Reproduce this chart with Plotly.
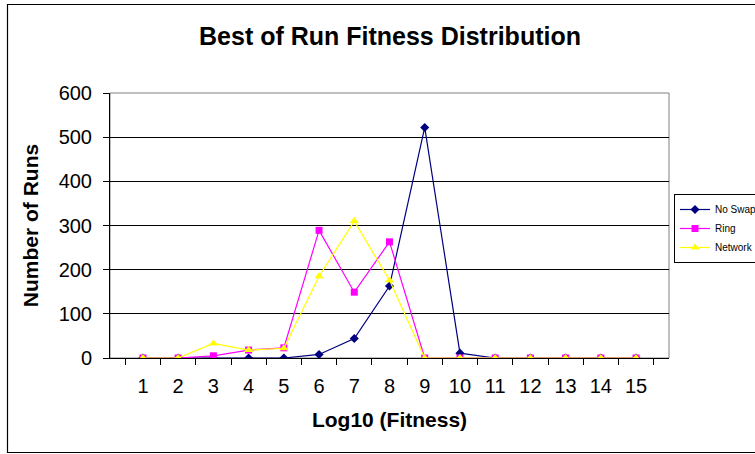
import plotly.graph_objects as go

categories = [str(i) for i in range(1, 16)]
no_swap = [0, 0, 0, 0, 0, 8, 44, 163, 522, 11, 0, 0, 0, 0, 0]
ring = [0, 0, 5, 18, 23, 289, 149, 263, 0, 0, 0, 0, 0, 0, 0]
network = [0, 0, 33, 18, 22, 185, 310, 176, 0, 0, 0, 0, 0, 0, 0]
y_ticks = [0, 100, 200, 300, 400, 500, 600]

FONT = "Liberation Sans, Arial, sans-serif"
W, H = 755, 454
L, R, T, B = 110, 669, 93, 358  # plot area in pixels

fig = go.Figure()
fig.add_trace(go.Scatter(x=categories, y=no_swap, name="No Swap", mode="lines+markers",
                         line=dict(color="#000080", width=1.2),
                         marker=dict(symbol="diamond", size=7, color="#000080")))
fig.add_trace(go.Scatter(x=categories, y=ring, name="Ring", mode="lines+markers",
                         line=dict(color="#FF00FF", width=1.2),
                         marker=dict(symbol="square", size=7, color="#FF00FF")))
fig.add_trace(go.Scatter(x=categories, y=network, name="Network", mode="lines+markers",
                         line=dict(color="#FFFF00", width=1.2),
                         marker=dict(symbol="triangle-up", size=8, color="#FFFF00")))

pw, ph = R - L, B - T
def px_x(p):
    return (p - L) / pw
def px_y(p):
    return (B - p) / ph

fig.add_shape(type="rect", xref="paper", yref="paper", x0=0, x1=1, y0=0, y1=1,
              line=dict(color="#808080", width=1), layer="below")
fig.add_shape(type="rect", xref="paper", yref="paper", x0=px_x(7.5), x1=px_x(790),
              y0=px_y(452.5), y1=px_y(4.5),
              line=dict(color="#000000", width=1.2), layer="below")

fig.update_layout(
    width=W, height=H,
    margin=dict(l=L, r=W - R, t=T, b=H - B, autoexpand=False),
    paper_bgcolor="white", plot_bgcolor="white",
    font=dict(family=FONT, color="black", size=20),
    title=dict(text="<b>Best of Run Fitness Distribution</b>", x=390 / W, xanchor="center",
               y=1 - 36 / H, yanchor="middle", yref="container",
               font=dict(size=25, family=FONT)),
    xaxis=dict(type="category", categoryorder="array", categoryarray=categories,
               tickson="boundaries", ticks="outside", ticklen=6, tickcolor="black",
               showline=True, linecolor="black", linewidth=1, showgrid=False,
               tickfont=dict(size=20), zeroline=False, ticklabelstandoff=10,
               title=dict(text="<b>Log10 (Fitness)</b>", font=dict(size=21), standoff=16)),
    yaxis=dict(range=[0, 600], tickvals=y_ticks, ticks="outside", ticklen=6, tickcolor="black",
               showline=True, linecolor="black", linewidth=1,
               showgrid=True, gridcolor="#000000", gridwidth=1, zeroline=False,
               tickfont=dict(size=20), ticklabelstandoff=7,
               title=dict(text="<b>Number of Runs</b>", font=dict(size=21), standoff=14)),
    legend=dict(xref="container", yref="container", x=674 / W, y=1 - 194 / H,
                xanchor="left", yanchor="top",
                bordercolor="black", borderwidth=1, bgcolor="white",
                font=dict(size=10, family=FONT), itemwidth=30, tracegroupgap=0),
    showlegend=True,
)

fig.write_html("out.html", config={"displayModeBar": False},
               post_script="document.body.style.margin='0';document.body.style.overflow='hidden';")
